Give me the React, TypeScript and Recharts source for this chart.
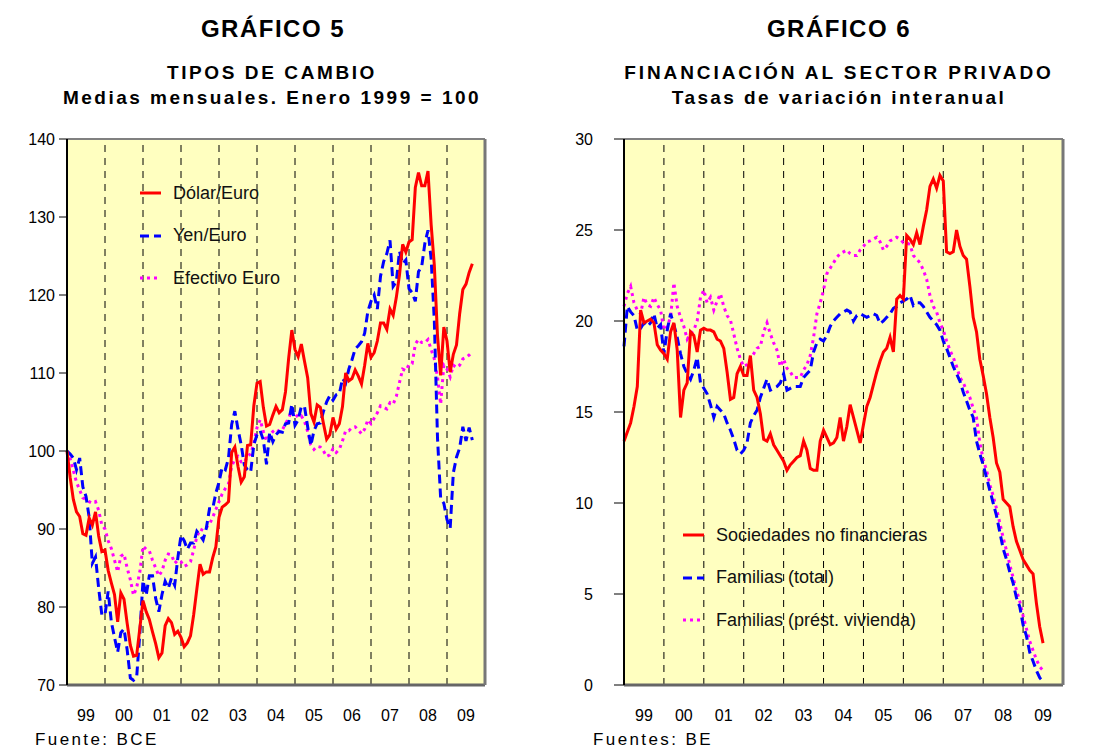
import { LineChart, Line, XAxis, YAxis, CartesianGrid, ReferenceLine } from 'recharts';

// shared x scale: months counted from Jan 1999
const yearLabels = ['99', '00', '01', '02', '03', '04', '05', '06', '07', '08', '09'];
const yearMids = [6, 18, 30, 42, 54, 66, 78, 90, 102, 114, 126];
const yearBounds = [12, 24, 36, 48, 60, 72, 84, 96, 108, 120];

// Gráfico 5 (Jan 1999 - Sep 2009)
const fxTicks = [70, 80, 90, 100, 110, 120, 130, 140];
const dolarEuro = [
  100.0, 96.6, 93.8, 92.2, 91.6, 89.4, 89.2, 91.4, 90.5, 92.2, 89.1, 87.1,
  87.3, 84.7, 83.1, 81.6, 78.1, 81.8, 81.0, 77.9, 75.1, 73.7, 73.8, 77.3,
  80.8, 79.4, 78.4, 76.8, 75.3, 73.5, 74.1, 77.6, 78.5, 78.0, 76.5, 76.9,
  76.1, 74.9, 75.4, 76.3, 79.0, 82.3, 85.5, 84.2, 84.5, 84.5, 86.3, 87.7,
  91.5, 92.8, 93.1, 93.5, 99.8, 100.5, 98.0, 96.0, 96.7, 100.7, 100.8, 105.8,
  108.7, 108.9, 105.6, 103.2, 103.4, 104.6, 105.7, 104.9, 105.3, 107.6, 111.9, 115.5,
  113.0, 112.1, 113.7, 111.5, 109.4, 104.8, 103.7, 105.9, 105.6, 103.5, 101.5, 102.1,
  104.3, 102.8, 103.5, 105.7, 110.0, 109.0, 109.3, 110.4, 109.6, 108.6, 111.0, 113.8,
  112.0, 112.6, 114.1, 116.4, 116.4, 115.6, 118.2, 117.4, 119.7, 122.6, 126.5, 125.5,
  126.8, 127.1, 133.8, 135.7, 134.0, 134.0, 135.9, 129.0, 123.8, 114.8, 109.7, 115.9,
  114.1, 110.1, 112.4, 113.6, 117.6, 120.7, 121.4, 122.9, 124.0,
];
const yenEuro = [
  100.0, 99.6, 99.1, 97.6, 99.1, 95.4, 94.2, 91.5, 85.6, 86.4, 82.4, 79.0,
  79.0, 82.0, 78.1, 76.1, 74.2, 76.7, 77.2, 74.5, 70.9, 70.6, 71.0, 76.6,
  83.4, 81.5, 84.0, 84.0, 81.1, 79.4, 81.6, 83.3, 82.4, 83.7, 82.8, 86.3,
  89.2, 88.5, 87.4, 88.2, 88.2, 89.7, 89.2, 88.6, 90.1, 92.6, 92.6, 94.6,
  96.0, 97.9, 97.6, 99.1, 103.4, 105.1, 102.8, 100.8, 98.2, 97.6, 97.3, 100.8,
  102.1, 102.6, 101.4, 98.3, 102.4, 101.2, 102.1, 102.5, 102.4, 103.5, 103.6, 106.0,
  103.3, 104.0, 105.7, 105.7, 103.1, 100.7, 102.6, 103.5, 103.6, 105.1, 106.3, 107.1,
  106.5, 107.2, 107.3, 109.3, 108.7, 110.5, 111.7, 113.1, 113.5, 114.0, 115.1, 117.9,
  119.2, 120.0, 118.2, 122.4, 124.3, 125.3, 127.0, 121.1, 121.7, 125.6, 124.0, 124.5,
  120.8, 120.3, 119.2, 123.0, 123.6, 126.6, 128.3, 124.6, 116.7, 101.7, 93.9, 93.3,
  91.2, 90.1, 97.2, 99.2, 100.4, 103.1, 101.3, 103.0, 101.4,
];
const efectivoEuro = [
  100.0, 99.0, 97.5, 96.0, 95.0, 94.0, 93.8, 93.5, 93.3, 93.5, 92.4, 90.5,
  90.0, 88.5, 87.5, 86.0, 84.5, 86.5, 86.8, 85.0, 83.5, 81.5, 82.5, 84.5,
  87.8, 87.4, 87.2, 86.0, 85.0, 84.0, 84.6, 86.0, 86.8, 86.7, 85.6, 86.0,
  85.8, 85.2, 85.4, 85.8, 87.3, 89.0, 90.0, 89.8, 90.2, 90.6, 91.5, 92.5,
  93.5, 94.5, 95.2, 95.8, 98.0, 99.0, 99.3, 98.6, 98.5, 99.4, 99.6, 101.0,
  103.0, 104.0, 102.5, 101.3, 102.0, 102.5, 102.8, 102.5, 102.7, 103.5, 104.2, 105.3,
  104.8, 104.3, 104.5, 103.8, 102.5, 100.8, 100.2, 100.6, 100.5, 100.0, 99.3, 99.5,
  100.3, 99.8, 100.2, 101.3, 102.6, 102.6, 103.0, 103.1, 102.7, 102.2, 102.8, 104.0,
  103.5, 104.2, 104.9, 105.8, 105.6, 105.4, 106.2, 106.0, 107.0, 108.8, 110.5, 110.3,
  111.1, 111.2, 113.7, 114.3, 113.9, 113.9, 114.3, 113.0, 111.8, 109.5, 106.0, 111.0,
  110.5, 109.5, 111.0, 110.7, 111.0, 111.8, 112.0, 112.3, 112.7,
];

// Gráfico 6 (Jan 1999 - Jul 2009)
const finTicks = [0, 5, 10, 15, 20, 25, 30];
const sociedades = [
  13.4, 13.9, 14.4, 15.3, 16.4, 20.6, 19.9, 20.0, 20.1, 19.9, 18.7, 18.4,
  18.2, 17.9, 19.4, 19.9, 18.4, 14.7, 16.2, 16.6, 19.4, 19.2, 18.3, 19.5,
  19.6, 19.5, 19.5, 19.4, 19.0, 18.9, 18.5, 17.2, 15.7, 15.8, 17.1, 17.5,
  17.0, 17.0, 18.1, 16.2, 15.8, 14.9, 13.5, 13.4, 13.8, 13.2, 12.9, 12.6,
  12.3, 11.8, 12.1, 12.3, 12.5, 12.6, 13.4, 12.9, 11.9, 11.8, 11.8, 13.4,
  14.0, 13.6, 13.2, 13.3, 13.6, 14.7, 13.4, 14.2, 15.4, 14.7, 14.0, 13.3,
  14.3, 15.3, 15.8, 16.5, 17.2, 17.8, 18.3, 18.5, 19.1, 18.3, 21.2, 21.4,
  21.2, 24.7, 24.5, 24.2, 24.85, 24.2, 25.2, 26.1, 27.4, 27.8, 27.3, 28.0,
  27.7, 23.8, 23.7, 23.8, 25.0, 24.1, 23.6, 23.4, 21.9, 20.2, 19.4, 17.9,
  17.0, 16.0, 14.7, 13.6, 12.2, 11.7, 10.2, 10.0, 9.8, 8.7, 7.9, 7.4,
  6.9, 6.6, 6.3, 6.1, 4.5, 3.2, 2.3,
];
const familiasTotal = [
  18.6, 20.8, 20.5, 20.3, 19.5, 19.6, 19.9, 19.7, 19.9, 20.4, 19.6, 19.8,
  18.2, 19.5, 20.4, 19.8, 19.1, 18.2, 17.5, 17.1, 16.8, 17.3, 18.0, 16.6,
  16.3, 16.0, 15.4, 14.7, 15.3, 15.1, 14.9, 14.4, 14.0, 13.5, 12.9, 12.7,
  12.9, 13.3, 14.4, 14.8, 15.1, 15.8, 16.3, 16.8, 16.2, 16.3, 16.4, 16.6,
  17.1, 16.2, 16.3, 16.4, 16.4, 16.4, 16.9, 17.1, 17.3, 18.3, 18.8, 19.0,
  18.9, 19.2, 19.7, 20.0, 20.2, 20.4, 20.5, 20.6, 20.5, 20.0, 20.3, 20.4,
  20.3, 20.2, 20.3, 20.4, 20.3, 19.85, 20.0, 20.2, 20.4, 20.7, 20.8, 21.0,
  21.1, 21.2, 21.4, 20.85, 21.0, 21.0, 20.8, 20.5, 20.2, 20.0, 19.8, 19.5,
  18.9, 18.5, 18.0, 17.5, 17.1, 16.7, 16.1, 15.6, 15.1, 14.7, 13.4, 12.7,
  12.1, 11.4, 10.7, 10.0, 9.3, 8.4, 7.5, 6.9, 6.2, 5.6, 4.8, 4.3,
  3.3, 2.7, 1.8, 1.3, 0.8, 0.4, 0.2,
];
const familiasVivienda = [
  20.8, 21.5, 21.9, 21.0, 20.6, 20.4, 21.3, 20.9, 20.8, 21.3, 20.9, 20.6,
  19.5, 19.7, 20.2, 22.1, 20.8, 20.2, 19.7, 19.0, 19.3, 19.5, 20.0, 21.3,
  21.7, 21.0, 21.3, 20.6, 21.1, 21.5, 20.8, 20.3, 20.05, 19.3, 18.5, 17.9,
  17.5, 17.6, 17.9, 18.2, 18.5, 18.6, 19.4, 19.9, 19.3, 18.8, 18.4, 17.5,
  17.9, 17.4, 17.2, 16.9, 16.9, 16.9, 17.3, 17.6, 18.1, 19.1, 20.4, 21.0,
  21.7, 22.6, 22.9, 23.2, 23.5, 23.7, 23.8, 23.9, 23.7, 23.6, 23.6, 23.9,
  24.1, 24.35, 24.4, 24.5, 24.6, 24.35, 23.9, 24.1, 24.4, 24.5, 24.6, 24.5,
  24.3, 24.3, 24.2, 23.6, 23.4, 23.2, 22.8, 22.3, 21.4, 20.8, 20.5, 19.9,
  19.5, 18.9, 18.4, 18.0, 17.5, 16.9, 16.6, 16.2, 15.8, 15.2, 14.7, 13.3,
  12.4, 11.8, 11.0, 10.4, 9.7, 8.9, 8.1, 7.4, 6.6, 5.9, 5.2, 4.6,
  3.8, 3.1, 2.4, 1.9, 1.4, 1.0, 0.8,
];

const fxData = dolarEuro.map((v, i) => ({ m: i, dolar: v, yen: yenEuro[i], efectivo: efectivoEuro[i] }));
const finData = sociedades.map((v, i) => ({ m: i, soc: v, tot: familiasTotal[i], viv: familiasVivienda[i] }));

const FONT = '"Liberation Sans", Arial, sans-serif';
const RED = '#FF0000';
const BLUE = '#0000FF';
const MAGENTA = '#FF00FF';

const fxSeries = [
  { key: 'efectivo', label: 'Efectivo Euro', color: MAGENTA, dash: '3 4' },
  { key: 'yen', label: 'Yen/Euro', color: BLUE, dash: '9 5' },
  { key: 'dolar', label: 'Dólar/Euro', color: RED, dash: undefined },
];
const finSeries = [
  { key: 'viv', label: 'Familias (prést. vivienda)', color: MAGENTA, dash: '3 4' },
  { key: 'tot', label: 'Familias (total)', color: BLUE, dash: '9 5' },
  { key: 'soc', label: 'Sociedades no financieras', color: RED, dash: undefined },
];

type Series = { key: string; label: string; color: string; dash?: string };

function Panel({ data, series, domain, ticks, width, rightWidth, leftTick, rightTick }: any) {
  return (
    <LineChart width={width} height={730} data={data} margin={{ top: 139, right: 0, bottom: 0, left: 0 }}>
      <CartesianGrid yAxisId="l" fill="#FFFFC0" stroke="none" horizontal={false} vertical={false} />
      <XAxis
        dataKey="m"
        type="number"
        domain={[0, 132]}
        ticks={yearMids}
        interval={0}
        tickFormatter={(v: number) => yearLabels[yearMids.indexOf(v)]}
        tickLine={false}
        axisLine={{ stroke: '#666', strokeWidth: 3 }}
        tick={{ fill: '#000', fontSize: 16 }}
        tickMargin={19}
        height={45}
      />
      <YAxis
        yAxisId="l"
        domain={domain}
        ticks={ticks}
        interval={0}
        width={67}
        axisLine={{ stroke: '#000', strokeWidth: 2 }}
        tickLine={{ stroke: '#000' }}
        tickSize={leftTick[0]}
        tickMargin={leftTick[1]}
        tick={{ fill: '#000', fontSize: 16 }}
      />
      <YAxis
        yAxisId="r"
        orientation="right"
        domain={domain}
        ticks={ticks}
        interval={0}
        width={rightWidth}
        axisLine={{ stroke: '#777', strokeWidth: 3 }}
        tickLine={{ stroke: '#000' }}
        tickSize={rightTick[0]}
        tickMargin={rightTick[1]}
        tick={{ fill: '#000', fontSize: 16 }}
      />
      {yearBounds.map((b) => (
        <ReferenceLine key={b} yAxisId="l" x={b} stroke="#000" strokeWidth={1} strokeDasharray="7 6" />
      ))}
      <ReferenceLine yAxisId="l" y={domain[1]} stroke="#808080" strokeWidth={2} />
      {series.map((s: Series) => (
        <Line
          key={s.key}
          yAxisId="l"
          type="linear"
          dataKey={s.key}
          stroke={s.color}
          strokeWidth={3}
          strokeDasharray={s.dash}
          dot={false}
          isAnimationActive={false}
        />
      ))}
    </LineChart>
  );
}

function LegendBox({ items, left, top }: { items: Series[]; left: number; top: number }) {
  return (
    <div style={{ position: 'absolute', left, top }}>
      {items.map((it, i) => (
        <div
          key={it.key}
          style={{ position: 'absolute', left: 0, top: i * 42.5, height: 20, display: 'flex', alignItems: 'center', whiteSpace: 'nowrap' }}
        >
          <svg width={21} height={6} style={{ display: 'block' }}>
            <line x1={0} y1={3} x2={21} y2={3} stroke={it.color} strokeWidth={3} strokeDasharray={it.dash} />
          </svg>
          <span style={{ marginLeft: 12, fontSize: 18, color: '#111' }}>{it.label}</span>
        </div>
      ))}
    </div>
  );
}

function Txt({ children, cx, top, size, bold, spacing }: any) {
  return (
    <div
      style={{
        position: 'absolute',
        left: cx - 300,
        width: 600,
        top,
        textAlign: 'center',
        fontSize: size,
        lineHeight: `${size}px`,
        fontWeight: bold ? 'bold' : 'normal',
        letterSpacing: spacing,
        whiteSpace: 'nowrap',
      }}
    >
      {children}
    </div>
  );
}

export default function App() {
  return (
    <div style={{ position: 'absolute', left: 0, top: 0, width: 1117, height: 749, background: '#fff', fontFamily: FONT, color: '#000', overflow: 'hidden' }}>
      <Txt cx={273} top={17} size={24} bold spacing={1.5}>GRÁFICO 5</Txt>
      <Txt cx={272} top={63} size={19} bold spacing={2.6}>TIPOS DE CAMBIO</Txt>
      <Txt cx={272} top={88} size={19} bold spacing={2.5}>Medias mensuales. Enero 1999 = 100</Txt>
      <Txt cx={839} top={17} size={24} bold spacing={1.5}>GRÁFICO 6</Txt>
      <Txt cx={839} top={63} size={19} bold spacing={2.9}>FINANCIACIÓN AL SECTOR PRIVADO</Txt>
      <Txt cx={839} top={88} size={19} bold spacing={2.4}>Tasas de variación interanual</Txt>

      <div style={{ position: 'absolute', left: 0, top: 0 }}>
        <Panel data={fxData} series={fxSeries} domain={[70, 140]} ticks={fxTicks} width={557} rightWidth={72} leftTick={[8, 4]} rightTick={[10, 20]} />
      </div>
      <div style={{ position: 'absolute', left: 557, top: 0 }}>
        <Panel data={finData} series={finSeries} domain={[0, 30]} ticks={finTicks} width={557} rightWidth={51} leftTick={[10, 21]} rightTick={[14, 15]} />
      </div>

      <LegendBox items={[fxSeries[2], fxSeries[1], fxSeries[0]]} left={140} top={183} />
      <LegendBox items={[finSeries[2], finSeries[1], finSeries[0]]} left={683} top={525} />

      <div style={{ position: 'absolute', left: 35, top: 731, fontSize: 17, lineHeight: '17px', letterSpacing: 2.4 }}>Fuente: BCE</div>
      <div style={{ position: 'absolute', left: 593, top: 731, fontSize: 17, lineHeight: '17px', letterSpacing: 2.4 }}>Fuentes: BE</div>
    </div>
  );
}
